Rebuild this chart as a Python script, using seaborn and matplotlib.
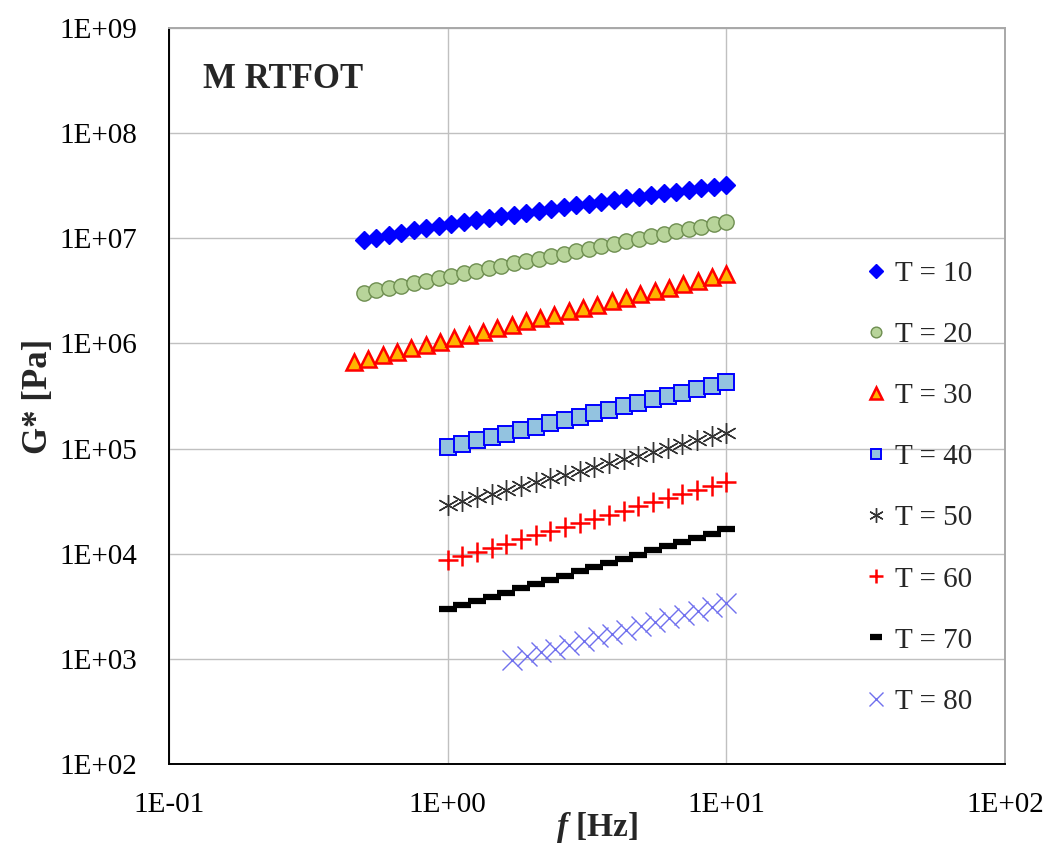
import matplotlib
matplotlib.use("Agg")
import pandas as pd
import matplotlib.pyplot as plt
import seaborn as sns
from matplotlib.ticker import FixedLocator, FuncFormatter, NullLocator

# frequency grids [Hz]
f_t10_t20 = [0.500, 0.554, 0.615, 0.682, 0.756, 0.838, 0.929, 1.030, 1.143, 1.267,
             1.405, 1.558, 1.727, 1.915, 2.124, 2.355, 2.611, 2.895, 3.210, 3.559,
             3.947, 4.376, 4.853, 5.381, 5.967, 6.616, 7.336, 8.135, 9.019, 10.0]
f_t30 = [0.461, 0.519, 0.584, 0.658, 0.740, 0.834, 0.938, 1.056, 1.189, 1.338,
         1.506, 1.695, 1.908, 2.147, 2.417, 2.720, 3.062, 3.446, 3.879, 4.366,
         4.914, 5.532, 6.226, 7.008, 7.888, 8.878, 10.0]
f_t40_t70 = [1.000, 1.129, 1.274, 1.438, 1.624, 1.833, 2.069, 2.336, 2.637, 2.976,
             3.360, 3.793, 4.281, 4.833, 5.456, 6.158, 6.952, 7.848, 8.859, 10.0]
f_t80 = [1.706, 1.919, 2.160, 2.430, 2.734, 3.076, 3.461, 3.894, 4.381, 4.929,
         5.546, 6.240, 7.020, 7.899, 8.887, 10.0]

# complex modulus G* [Pa]
g_t10 = [9.64e6, 1.016e7, 1.072e7, 1.127e7, 1.186e7, 1.245e7, 1.303e7, 1.361e7, 1.422e7, 1.486e7,
         1.549e7, 1.614e7, 1.683e7, 1.754e7, 1.824e7, 1.897e7, 1.972e7, 2.051e7, 2.138e7, 2.223e7,
         2.312e7, 2.399e7, 2.489e7, 2.582e7, 2.679e7, 2.780e7, 2.884e7, 2.992e7, 3.105e7, 3.214e7]
g_t20 = [3.02e6, 3.19e6, 3.36e6, 3.55e6, 3.75e6, 3.95e6, 4.17e6, 4.40e6, 4.65e6, 4.91e6,
         5.18e6, 5.46e6, 5.77e6, 6.08e6, 6.42e6, 6.78e6, 7.15e6, 7.55e6, 7.96e6, 8.41e6,
         8.87e6, 9.35e6, 9.89e6, 1.042e7, 1.102e7, 1.161e7, 1.225e7, 1.294e7, 1.365e7, 1.439e7]
g_t30 = [6.65e5, 7.16e5, 7.71e5, 8.32e5, 8.95e5, 9.64e5, 1.038e6, 1.117e6, 1.205e6, 1.297e6,
         1.396e6, 1.503e6, 1.618e6, 1.746e6, 1.879e6, 2.023e6, 2.178e6, 2.344e6, 2.529e6, 2.723e6,
         2.931e6, 3.155e6, 3.396e6, 3.664e6, 3.945e6, 4.246e6, 4.571e6]
g_t40 = [1.028e5, 1.109e5, 1.194e5, 1.288e5, 1.387e5, 1.496e5, 1.611e5, 1.738e5, 1.871e5, 2.018e5,
         2.173e5, 2.344e5, 2.523e5, 2.723e5, 2.931e5, 3.162e5, 3.404e5, 3.673e5, 3.954e5, 4.266e5]
g_t50 = [2.904e4, 3.155e4, 3.428e4, 3.733e4, 4.055e4, 4.406e4, 4.786e4, 5.200e4, 5.662e4, 6.152e4,
         6.683e4, 7.261e4, 7.907e4, 8.590e4, 9.333e4, 1.014e5, 1.102e5, 1.199e5, 1.303e5, 1.416e5]
g_t60 = [8.71e3, 9.53e3, 1.042e4, 1.143e4, 1.250e4, 1.368e4, 1.496e4, 1.637e4, 1.795e4, 1.963e4,
         2.148e4, 2.350e4, 2.576e4, 2.818e4, 3.083e4, 3.373e4, 3.690e4, 4.046e4, 4.426e4, 4.842e4]
g_t70 = [2.958e3, 3.243e3, 3.556e3, 3.899e3, 4.276e3, 4.688e3, 5.140e3, 5.636e3, 6.180e3, 6.776e3,
         7.447e3, 8.166e3, 8.954e3, 9.817e3, 1.076e4, 1.180e4, 1.294e4, 1.419e4, 1.556e4, 1.706e4]
g_t80 = [975, 1059, 1151, 1250, 1358, 1476, 1603, 1742, 1888, 2051,
         2228, 2421, 2630, 2858, 3105, 3373]

temps = [10, 20, 30, 40, 50, 60, 70, 80]
freqs = [f_t10_t20, f_t10_t20, f_t30, f_t40_t70, f_t40_t70, f_t40_t70, f_t40_t70, f_t80]
moduli = [g_t10, g_t20, g_t30, g_t40, g_t50, g_t60, g_t70, g_t80]

rows = []
for t, fs, gs in zip(temps, freqs, moduli):
    for f, g in zip(fs, gs):
        rows.append({'T': t, 'f': f, 'G': g})
data = pd.DataFrame(rows)

# marker styles, Excel look
styles = {
    10: dict(marker='D', markersize=9.5, markerfacecolor='#0000FF', markeredgecolor='#0000FF', markeredgewidth=1),
    20: dict(marker='o', markersize=11, markerfacecolor='#B8D49A', markeredgecolor='#6E8E50', markeredgewidth=1),
    30: dict(marker='^', markersize=12, markerfacecolor='#FFB400', markeredgecolor='#FF0000', markeredgewidth=1.8),
    40: dict(marker='s', markersize=11, markerfacecolor='#93C3E0', markeredgecolor='#0000FF', markeredgewidth=1.4),
    50: dict(marker=(6, 2, 0), markersize=15, markerfacecolor='#333333', markeredgecolor='#333333', markeredgewidth=1),
    60: dict(marker='+', markersize=14, markerfacecolor='#FF0000', markeredgecolor='#FF0000', markeredgewidth=1.8),
    70: dict(marker='_', markersize=13, markerfacecolor='#000000', markeredgecolor='#000000', markeredgewidth=4.5),
    80: dict(marker='x', markersize=15, markerfacecolor='#7070EE', markeredgecolor='#7070EE', markeredgewidth=1),
}

sns.set_style('white')
plt.rcParams['font.family'] = ['Liberation Serif', 'DejaVu Serif']
plt.rcParams['mathtext.fontset'] = 'custom'
plt.rcParams['mathtext.bfit'] = 'Liberation Serif:bold:italic'

fig = plt.figure(figsize=(10.52, 8.58), dpi=100)
ax = fig.add_axes([169 / 1052, 1 - 764 / 858, (1005 - 169) / 1052, (764 - 28) / 858])
ax.set_xscale('log')
ax.set_yscale('log')

for t in temps:
    sub = data[data['T'] == t]
    sns.lineplot(data=sub, x='f', y='G', ax=ax, estimator=None, sort=False,
                 linestyle='none', color=styles[t]['markeredgecolor'],
                 label=f'T = {t}', **styles[t])

ax.set_xlim(0.1, 100)
ax.set_ylim(1e2, 1e9)
ax.xaxis.set_major_locator(FixedLocator([0.1, 1, 10, 100]))
ax.yaxis.set_major_locator(FixedLocator([1e2, 1e3, 1e4, 1e5, 1e6, 1e7, 1e8, 1e9]))
ax.xaxis.set_minor_locator(NullLocator())
ax.yaxis.set_minor_locator(NullLocator())
fmt = FuncFormatter(lambda v, _: f'{v:.0E}')
ax.xaxis.set_major_formatter(fmt)
ax.yaxis.set_major_formatter(fmt)
ax.tick_params(axis='both', direction='out', length=8, width=1, color='black',
               labelsize=21, labelcolor='black')
ax.tick_params(axis='y', pad=15)
ax.tick_params(axis='x', pad=12)

ax.grid(True, which='major', color='#C0C0C0', linewidth=1)
ax.set_axisbelow(True)
for side in ['left', 'bottom']:
    ax.spines[side].set_color('black')
    ax.spines[side].set_linewidth(1.4)
for side in ['top', 'right']:
    ax.spines[side].set_color('#A8A8A8')
    ax.spines[side].set_linewidth(1.4)

ax.set_xlabel(r'$\mathbfit{f}$ [Hz]', fontsize=24, fontweight='bold', labelpad=0)
ax.xaxis.set_label_coords(0.512, -0.062)
ax.set_ylabel('G* [Pa]', fontsize=25, fontweight='bold', labelpad=3)

ax.text(0.041, 0.93, 'M RTFOT', transform=ax.transAxes, fontsize=25,
        fontweight='bold', va='center', ha='left')

handles, labels = ax.get_legend_handles_labels()
ax.legend(handles, labels, loc='upper left', bbox_to_anchor=(0.82, 0.70),
          frameon=False, fontsize=21, handlelength=0.7, handletextpad=0.3,
          labelspacing=1.19, markerscale=0.7, borderaxespad=0)

fig.savefig('out.png', dpi=100)
